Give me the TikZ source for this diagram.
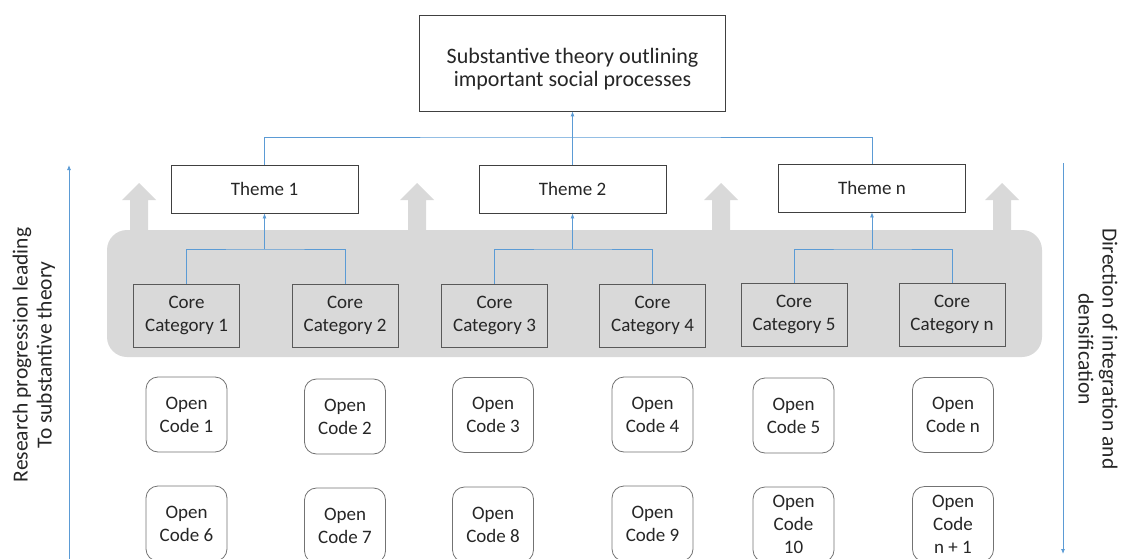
\documentclass[tikz,border=0pt]{standalone}
\usepackage{fontspec}
\setmainfont{Carlito}
\usetikzlibrary{arrows.meta}
\definecolor{lblue}{HTML}{5B9BD5}
\definecolor{band}{HTML}{D9D9D9}
\definecolor{bord}{HTML}{404040}
\begin{document}
\begin{tikzpicture}[x=1pt,y=-1pt,
 every node/.style={font=\fontsize{19}{23}\selectfont, align=center, inner sep=0pt, text=black!85},
 topbox/.style={draw=bord, fill=white, minimum width=306pt, minimum height=96pt, line width=0.8pt},
 toptext/.style={font=\fontsize{22}{23.5}\selectfont},
 themebox/.style={draw=bord, fill=white, minimum width=187pt, minimum height=48pt, line width=0.8pt},
 corebox/.style={draw=black!65, fill=band, minimum width=106pt, minimum height=63pt, line width=0.8pt},
 codebox/.style={draw=black!55, fill=white, rounded corners=12pt, minimum width=81pt, minimum height=75pt, line width=0.8pt},
 link/.style={draw=lblue, line width=0.8pt},
 tip/.style={-{Latex[length=5pt,width=4pt]}},
 side/.style={font=\fontsize{21.5}{24}\selectfont}]
\useasboundingbox (0,0) rectangle (1132,559);

% gray band and gray up-arrows
\fill[band, rounded corners=20pt] (107,230) rectangle (1042,357);
\foreach \cx in {139,417,721,1002}{
  \fill[band] (\cx-9,232) -- (\cx-9,200) -- (\cx-17,200) -- (\cx,183) -- (\cx+17,200) -- (\cx+9,200) -- (\cx+9,232) -- cycle;
}

% top box
\node[topbox] (top) at (572.5,63) {};
\node[toptext] (toptxt) at (572.5,69) {Substantive theory outlining\\important social processes};

% themes
\node[themebox] (t1) at (264.5,189) {Theme 1};
\node[themebox] (t2) at (572.5,189) {Theme 2};
\node[themebox] (tn) at (872,188) {Theme n};

% core categories
\node[corebox] (c1) at (186.5,315.5) {Core\\Category 1};
\node[corebox] (c2) at (345,315.5) {Core\\Category 2};
\node[corebox] (c3) at (494.5,315.5) {Core\\Category 3};
\node[corebox] (c4) at (652.5,315.5) {Core\\Category 4};
\node[corebox] (c5) at (794,314.5) {Core\\Category 5};
\node[corebox] (cn) at (952,314.5) {Core\\Category n};

% open codes
\node[codebox] (o1) at (186.5,414.5) {Open\\Code 1};
\node[codebox] (o2) at (345,416.5) {Open\\Code 2};
\node[codebox] (o3) at (493,415) {Open\\Code 3};
\node[codebox] (o4) at (652.5,414.5) {Open\\Code 4};
\node[codebox] (o5) at (793.5,415.5) {Open\\Code 5};
\node[codebox] (on) at (953,415) {Open\\Code n};
\node[codebox] (o6) at (186.5,523.5) {Open\\Code 6};
\node[codebox] (o7) at (345,525.5) {Open\\Code 7};
\node[codebox] (o8) at (493,524.5) {Open\\Code 8};
\node[codebox] (o9) at (652.5,523.5) {Open\\Code 9};
\node[codebox] (o10) at (793.5,524.5) {Open\\Code\\10};
\node[codebox] (on1) at (953,524) {Open\\Code\\n + 1};

% connectors: themes to top
\coordinate (jt) at (572.5,137);
\draw[link] (t1.north) |- (jt) -| (tn.north);
\draw[link, tip] (t2.north) -- (top.south);

% connectors: cores to themes
\coordinate (j1) at (264.5,249);
\coordinate (j2) at (572.5,249);
\coordinate (j3) at (872,249);
\draw[link] (c1.north) |- (j1) -| (c2.north);
\draw[link, tip] (j1) -- (t1.south);
\draw[link] (c3.north) |- (j2) -| (c4.north);
\draw[link, tip] (j2) -- (t2.south);
\draw[link] (c5.north) |- (j3) -| (cn.north);
\draw[link, tip] (j3) -- (tn.south);

% side arrows
\coordinate (la0) at (69,559);
\coordinate (la1) at (69,165);
\draw[link, tip] (la0) -- (la1);
\coordinate (ra0) at (1063,163);
\coordinate (ra1) at (1063,554);
\draw[link, tip] (ra0) -- (ra1);

\node[side, rotate=90] (ltext) at (34,355) {Research progression leading\\To substantive theory};
\node[side, rotate=-90] (rtext) at (1098,349) {Direction of integration and\\densification};
\end{tikzpicture}
\end{document}
